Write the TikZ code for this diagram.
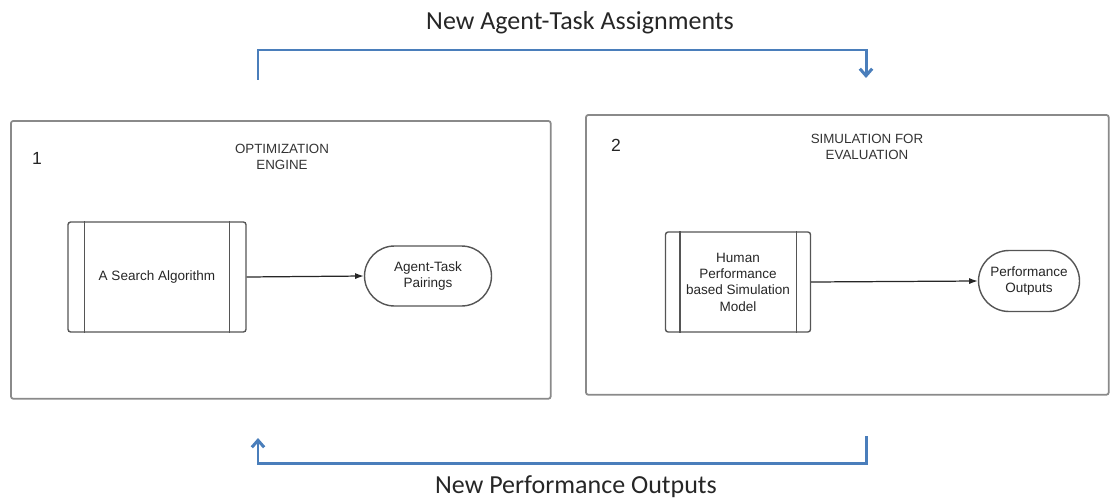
\documentclass[tikz,border=0pt]{standalone}
\usepackage{fontspec}
\setmainfont{Liberation Sans}
\newfontfamily\calibri{Carlito}
\usetikzlibrary{arrows.meta}
\definecolor{flowblue}{HTML}{4A7EBB}
\definecolor{boxgray}{HTML}{8A8A8A}
\definecolor{linegray}{HTML}{555555}
\begin{document}
\begin{tikzpicture}[x=0.02cm,y=-0.02cm,
  container/.style={draw=boxgray, line width=1pt, rounded corners=1.5pt, inner sep=0pt, anchor=north west},
  procbox/.style={draw=linegray, line width=0.8pt, rounded corners=1.5pt, inner sep=0pt, align=center, font=\fontsize{7.7}{9.3}\selectfont, text=black!85},
  termbox/.style={draw=linegray, line width=0.8pt, inner sep=0pt, align=center, font=\fontsize{7.7}{9.3}\selectfont, text=black!85},
  bar/.style={draw=linegray, line width=0.8pt},
  flow/.style={draw=black!85, line width=0.7pt, -{Latex[length=5pt,width=3.5pt]}},
  loopline/.style={draw=flowblue, line width=1.7pt, -{Straight Barb[length=4pt,width=7pt,line width=1.7pt]}},
  boxtitle/.style={align=center, font=\fontsize{7.6}{9.3}\selectfont, text=black!80},
  boxnum/.style={font=\fontsize{10}{11}\selectfont, text=black!85},
  looplabel/.style={font=\calibri\fontsize{14.8}{16}\selectfont, text=black!85}
]
\useasboundingbox (0,0) rectangle (1111,500);

% containers
\node[container, minimum width=10.8cm, minimum height=5.56cm] (c1) at (10,120) {};
\node[container, minimum width=10.46cm, minimum height=5.6cm] (c2) at (585,114) {};

\node[boxnum] (n1) at (37,158) {1};
\node[boxtitle] (t1) at (282,157) {OPTIMIZATION\\ENGINE};
\node[boxnum] (n2) at (616,145) {2};
\node[boxtitle] (t2) at (867,147) {SIMULATION FOR\\EVALUATION};

% left content
\node[procbox, minimum width=3.56cm, minimum height=2.2cm] (pa) at (157,277) {A Search Algorithm};
\draw[bar] ([xshift=0.34cm]pa.north west) -- ([xshift=0.34cm]pa.south west);
\draw[bar] ([xshift=-0.34cm]pa.north east) -- ([xshift=-0.34cm]pa.south east);
\node[termbox, minimum width=2.54cm, minimum height=1.2cm, rounded corners=0.6cm] (ta) at (428,276) {Agent-Task\\Pairings};
\draw[flow] (pa.east) -- (ta.west);

% right content
\node[procbox, minimum width=2.9cm, minimum height=2cm] (pb) at (738,282) {Human\\Performance\\based Simulation\\Model};
\draw[bar] ([xshift=0.3cm]pb.north west) -- ([xshift=0.3cm]pb.south west);
\draw[bar] ([xshift=-0.3cm]pb.north east) -- ([xshift=-0.3cm]pb.south east);
\node[termbox, minimum width=2.02cm, minimum height=1.22cm, rounded corners=0.61cm] (tb) at (1029,281) {Performance\\Outputs};
\draw[flow] (pb.east) -- (tb.west);

% feedback loops
\coordinate (tl) at (258,80);
\coordinate (tr) at (866,78);
\draw[loopline] (tl) -- ++(0,-30) -| (tr);
\node[looplabel] (lt) at (580,23) {New Agent-Task Assignments};

\coordinate (br) at (866,436);
\coordinate (bl) at (258,438);
\draw[loopline] (br) -- ++(0,27) -| (bl);
\node[looplabel] (lb) at (576,487) {New Performance Outputs};
\end{tikzpicture}
\end{document}
